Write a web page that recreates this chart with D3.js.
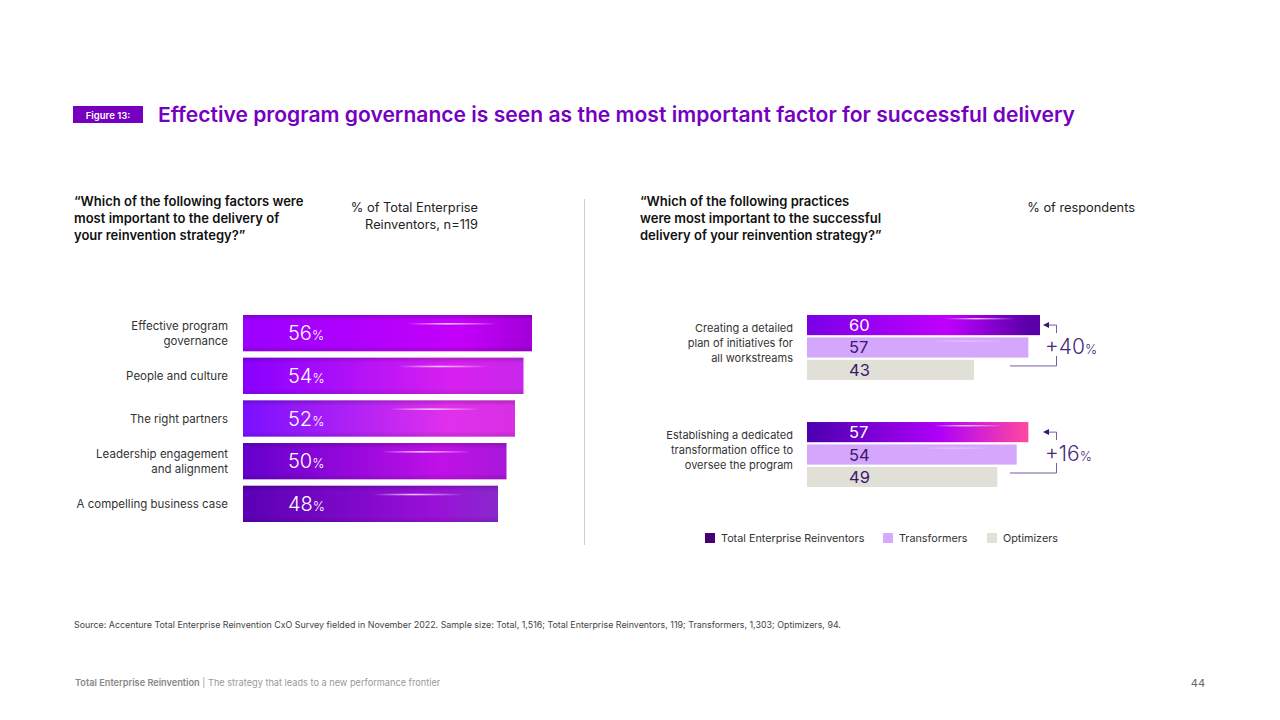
<!DOCTYPE html>
<html>
<head>
<meta charset="utf-8">
<script src="https://cdn.jsdelivr.net/npm/d3@7"></script>
<style>
  body { margin: 0; background: #fff; }
  svg { font-family: Inter, "Noto Sans", sans-serif; }
</style>
</head>
<body>
<div id="chart"></div>
<script>
'use strict';

// left panel data
var factors = [
    ["Effective program", "governance"],
    ["People and culture"],
    ["The right partners"],
    ["Leadership engagement", "and alignment"],
    ["A compelling business case"]
];
var factorValues = [56, 54, 52, 50, 48];

// right panel data
var practices = [
    ["Creating a detailed", "plan of initiatives for", "all workstreams"],
    ["Establishing a dedicated", "transformation office to", "oversee the program"]
];
var groups = ["Total Enterprise Reinventors", "Transformers", "Optimizers"];
var reinventorValues = [60, 57];
var transformerValues = [57, 54];
var optimizerValues = [43, 49];
var upliftLabels = ["+40", "+16"];

var W = 1280, H = 720;
var svg = d3.select("#chart").append("svg")
    .attr("width", W)
    .attr("height", H);
var defs = svg.append("defs");

// header
svg.append("rect")
    .attr("x", 73).attr("y", 106).attr("width", 70).attr("height", 17)
    .attr("fill", "#7500c0");
svg.append("text")
    .attr("x", 108).attr("y", 118.5)
    .attr("text-anchor", "middle")
    .attr("fill", "#fff").attr("font-size", 9.5).attr("font-weight", 600)
    .text("Figure 13:");
svg.append("text")
    .attr("x", 158).attr("y", 122)
    .attr("fill", "#7500c0").attr("font-size", 20.5).attr("font-weight", 600)
    .attr("textLength", 917).attr("lengthAdjust", "spacingAndGlyphs")
    .text("Effective program governance is seen as the most important factor for successful delivery");

function lines(x, y, arr, opts) {
    var t = svg.append("text")
        .attr("x", x).attr("y", y)
        .attr("fill", opts.color || "#111")
        .attr("font-size", opts.size)
        .attr("font-weight", opts.weight || 400)
        .attr("text-anchor", opts.anchor || "start");
    arr.forEach(function (s, i) {
        t.append("tspan").attr("x", x).attr("dy", i ? opts.lh : 0).text(s);
    });
    return t;
}

lines(74, 206, ["\u201cWhich of the following factors were", "most important to the delivery of", "your reinvention strategy?\u201d"],
    { size: 13, weight: 600, lh: 17 });
lines(478, 212, ["% of Total Enterprise", "Reinventors, n=119"],
    { size: 12.8, lh: 17, anchor: "end", color: "#222" });
lines(640, 206, ["\u201cWhich of the following practices", "were most important to the successful", "delivery of your reinvention strategy?\u201d"],
    { size: 13, weight: 600, lh: 17 });
lines(1135, 212, ["% of respondents"], { size: 12.8, anchor: "end", color: "#222" });

// divider
svg.append("line")
    .attr("x1", 584.5).attr("x2", 584.5).attr("y1", 199).attr("y2", 545)
    .attr("stroke", "#cfcfcf").attr("stroke-width", 1);

// ---------- left chart ----------
var xL = d3.scaleLinear().domain([-12, 56]).range([243, 532]);
var yL = d3.scaleBand()
    .domain(d3.range(factorValues.length))
    .range([315, 522])
    .paddingInner(0.15);

var leftStops = [
    ["#9a00ff", "#c400fa", "#a200d8"],
    ["#8800ff", "#d820f0", "#c828ea"],
    ["#7a10ff", "#e030ec", "#d830e4"],
    ["#6400cc", "#c010e8", "#a818d8"],
    ["#5a00b4", "#9a10d8", "#8a28cc"]
];
leftStops.forEach(function (s, i) {
    var g = defs.append("linearGradient").attr("id", "lg" + i);
    g.append("stop").attr("offset", "0%").attr("stop-color", s[0]);
    g.append("stop").attr("offset", "75%").attr("stop-color", s[1]);
    g.append("stop").attr("offset", "100%").attr("stop-color", s[2]);
});
var streak = defs.append("linearGradient").attr("id", "streak");
streak.append("stop").attr("offset", "0%").attr("stop-color", "#fff").attr("stop-opacity", 0);
streak.append("stop").attr("offset", "45%").attr("stop-color", "#f4d8ff").attr("stop-opacity", 0.9);
streak.append("stop").attr("offset", "100%").attr("stop-color", "#fff").attr("stop-opacity", 0);
var shade = defs.append("linearGradient").attr("id", "shade")
    .attr("x1", 0).attr("x2", 0).attr("y1", 0).attr("y2", 1);
shade.append("stop").attr("offset", "0%").attr("stop-color", "#000").attr("stop-opacity", 0.18);
shade.append("stop").attr("offset", "15%").attr("stop-color", "#000").attr("stop-opacity", 0);
shade.append("stop").attr("offset", "85%").attr("stop-color", "#000").attr("stop-opacity", 0);
shade.append("stop").attr("offset", "100%").attr("stop-color", "#000").attr("stop-opacity", 0.12);

var lbars = svg.append("g").selectAll("g")
    .data(factorValues)
    .enter().append("g");
lbars.append("rect")
    .attr("x", xL(-12))
    .attr("y", function (d, i) { return yL(i); })
    .attr("width", function (d) { return xL(d) - xL(-12); })
    .attr("height", yL.bandwidth())
    .attr("fill", function (d, i) { return "url(#lg" + i + ")"; });
lbars.append("rect")
    .attr("x", xL(-12))
    .attr("y", function (d, i) { return yL(i); })
    .attr("width", function (d) { return xL(d) - xL(-12); })
    .attr("height", yL.bandwidth())
    .attr("fill", "url(#shade)");
lbars.append("rect")
    .attr("x", function (d) { return xL(d) - 125; })
    .attr("y", function (d, i) { return yL(i) + 8; })
    .attr("width", 90)
    .attr("height", 1.6)
    .attr("fill", "url(#streak)");
var lt = lbars.append("text")
    .attr("x", 288)
    .attr("y", function (d, i) { return yL(i) + yL.bandwidth() / 2 + 7; })
    .attr("fill", "#fff")
    .attr("font-size", 20)
    .attr("font-weight", 300);
lt.append("tspan").text(function (d) { return d; });
lt.append("tspan").attr("font-size", 13).text("%");

factors.forEach(function (f, i) {
    var cy = yL(i) + yL.bandwidth() / 2;
    lines(228, cy + 4 - (f.length - 1) * 7.5, f, { size: 11.5, lh: 15, anchor: "end", color: "#333" });
});

// ---------- right chart ----------
var xR = d3.scaleLinear().domain([0, 60]).range([807, 1040]);
var yG = d3.scaleBand().domain(d3.range(practices.length)).range([315, 487]).paddingInner(0.393);
var yS = d3.scaleBand().domain(groups).range([0, yG.bandwidth()]).paddingInner(0.1);

var trStops = [
    ["#7a00e6", "#c000ff", "#5a00a8"],
    ["#4a00b0", "#b000f8", "#ff4a9e"]
];
trStops.forEach(function (s, i) {
    var g = defs.append("linearGradient").attr("id", "rg" + i);
    g.append("stop").attr("offset", "0%").attr("stop-color", s[0]);
    g.append("stop").attr("offset", "60%").attr("stop-color", s[1]);
    g.append("stop").attr("offset", i ? "100%" : "95%").attr("stop-color", s[2]);
});

var legendColors = ["#460073", "#d7a8ff", "#e2e1d8"];
var seriesVals = [reinventorValues, transformerValues, optimizerValues];

practices.forEach(function (p, gi) {
    var g0 = yG(gi);
    groups.forEach(function (s, si) {
        var v = seriesVals[si][gi];
        var y = g0 + yS(s);
        svg.append("rect")
            .attr("x", xR(0)).attr("y", y)
            .attr("width", xR(v) - xR(0)).attr("height", yS.bandwidth())
            .attr("fill", si === 0 ? "url(#rg" + gi + ")" : (si === 1 ? "#d4a6fc" : "#e1e0d7"));
        if (si < 2) {
            svg.append("rect")
                .attr("x", xR(v) - 95).attr("y", y + 3)
                .attr("width", 70).attr("height", 1.4)
                .attr("fill", "url(#streak)")
                .attr("opacity", si === 0 ? 1 : 0.6);
        }
        svg.append("text")
            .attr("x", 849).attr("y", y + yS.bandwidth() / 2 + 6)
            .attr("fill", si === 0 ? "#fff" : "#3c1670")
            .attr("font-size", 16.5)
            .text(v);
    });
    var cy = g0 + yG.bandwidth() / 2;
    lines(793, cy - 15.5, p, { size: 11, lh: 15, anchor: "end", color: "#333" });

    // uplift bracket
    var yTop = g0 + yS(groups[0]) + yS.bandwidth() / 2;
    var yBot = g0 + yG.bandwidth() - 14;
    var bx = 1056.5;
    var xa = xR(reinventorValues[0]);
    svg.append("path")
        .attr("d", "M" + (xa + 7) + "," + yTop + "H" + bx + "V" + (yTop + 8) +
            "M" + bx + "," + (yBot - 10) + "V" + yBot + "H" + (xR(optimizerValues[0]) + 36))
        .attr("fill", "none").attr("stroke", "#7a5aa8").attr("stroke-width", 1);
    svg.append("path")
        .attr("d", "M" + (xa + 3) + "," + yTop + "l6,-3v6z")
        .attr("fill", "#3c1670");
    var ut = svg.append("text")
        .attr("x", 1045).attr("y", (yTop + yBot) / 2 + 8)
        .attr("fill", "#4a2a7a").attr("font-size", 21).attr("font-weight", 300);
    ut.append("tspan").text(upliftLabels[gi]);
    ut.append("tspan").attr("font-size", 13).text("%");
});

// legend
var legX = [705, 883, 987];
groups.forEach(function (s, i) {
    svg.append("rect")
        .attr("x", legX[i]).attr("y", 533).attr("width", 10).attr("height", 10)
        .attr("fill", legendColors[i]);
    svg.append("text")
        .attr("x", legX[i] + 16).attr("y", 542)
        .attr("fill", "#333").attr("font-size", 10.8)
        .text(s);
});

// source + footer
svg.append("text")
    .attr("x", 74).attr("y", 628)
    .attr("fill", "#444").attr("font-size", 8.9)
    .text("Source: Accenture Total Enterprise Reinvention CxO Survey fielded in November 2022. Sample size: Total, 1,516; Total Enterprise Reinventors, 119; Transformers, 1,303; Optimizers, 94.");
var ft = svg.append("text")
    .attr("x", 75).attr("y", 686)
    .attr("font-size", 9.2).attr("fill", "#999");
ft.append("tspan").attr("font-weight", 600).attr("fill", "#888").text("Total Enterprise Reinvention");
ft.append("tspan").text(" | The strategy that leads to a new performance frontier");
svg.append("text")
    .attr("x", 1205).attr("y", 687)
    .attr("text-anchor", "end").attr("fill", "#666").attr("font-size", 11)
    .text("44");
</script>
</body>
</html>
